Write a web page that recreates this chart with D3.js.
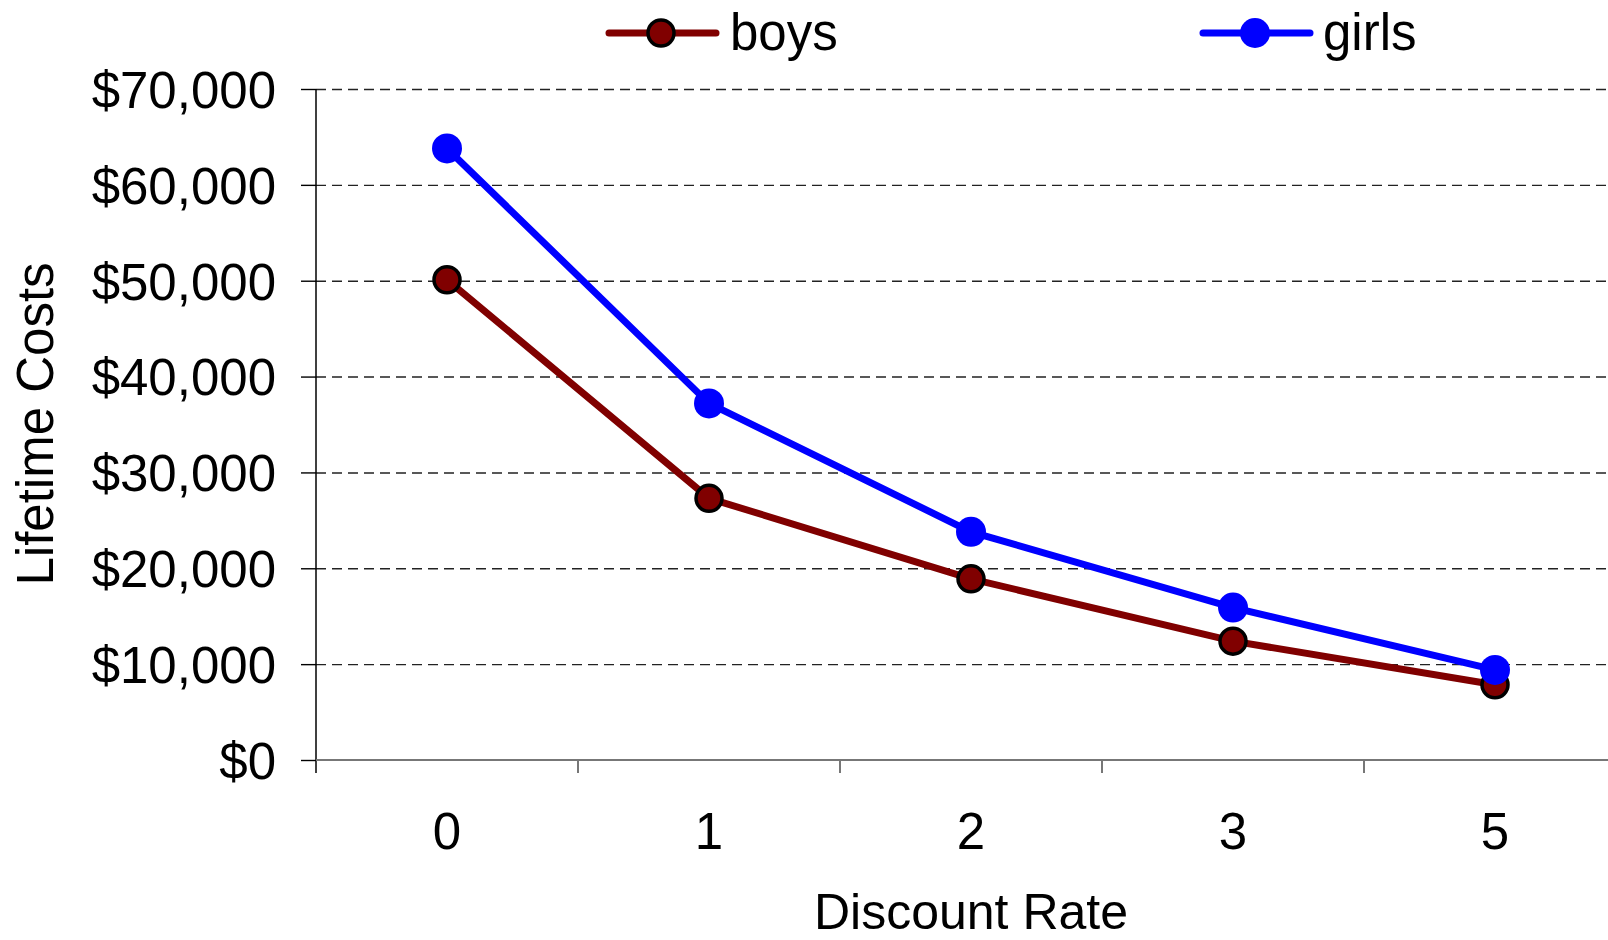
<!DOCTYPE html>
<html lang="en">
<head>
    <meta charset="UTF-8">
    <title>Lifetime Costs by Discount Rate</title>
    <script src="https://d3js.org/d3.v7.min.js"></script>
    <style>
        body {
            margin: 0;
            background: #fff;
        }
        svg text {
            font-family: "Liberation Sans", Arial, sans-serif;
            fill: #000;
        }
    </style>
</head>
<body>
    <script>
    // data
    var rates = ["0", "1", "2", "3", "5"];
    var boys = [50100, 27300, 18900, 12400, 7850];
    var girls = [63800, 37200, 23800, 15900, 9400];
    var yTicks = [0, 10000, 20000, 30000, 40000, 50000, 60000, 70000];

    var w = 1608;
    var h = 940;

    var svg = d3.select("body")
        .append("svg")
        .attr("width", w)
        .attr("height", h);

    // plot spans past the right edge of the picture, like the original
    var x = d3.scaleBand()
        .domain(rates)
        .range([316, 1626]);

    var y = d3.scaleLinear()
        .domain([0, 70000])
        .range([760, 89]);

    // dashed gridlines
    svg.append("g")
        .attr("transform", "translate(316,0)")
        .call(d3.axisLeft(y).tickValues(yTicks.slice(1)).tickSize(-(w - 316)).tickFormat(""))
        .call(function(g) {
            g.select(".domain").remove();
            g.selectAll("line")
                .attr("stroke", "#222")
                .attr("stroke-width", 1.4)
                .attr("stroke-dasharray", "10,6");
        });

    // y axis
    svg.append("g")
        .attr("transform", "translate(316,0)")
        .call(d3.axisLeft(y)
            .tickValues(yTicks)
            .tickSize(15)
            .tickPadding(25)
            .tickFormat(function(d) { return "$" + d3.format(",")(d); }))
        .call(function(g) {
            g.select(".domain").remove();
            g.selectAll("line").attr("stroke", "#000").attr("stroke-width", 1.4);
            g.selectAll("text")
                .attr("font-size", 51)
                .attr("dy", "0.36em");
        });

    svg.append("line")
        .attr("x1", 316).attr("x2", 316)
        .attr("y1", y(70000)).attr("y2", 773)
        .attr("stroke", "#000")
        .attr("stroke-width", 1.5);

    // x axis line + ticks on band edges
    svg.append("line")
        .attr("x1", 316).attr("x2", w)
        .attr("y1", y(0)).attr("y2", y(0))
        .attr("stroke", "#777")
        .attr("stroke-width", 2);

    svg.selectAll(".xtick")
        .data(rates.slice(1))
        .enter()
        .append("line")
        .attr("class", "xtick")
        .attr("x1", function(d) { return x(d); })
        .attr("x2", function(d) { return x(d); })
        .attr("y1", y(0))
        .attr("y2", 773)
        .attr("stroke", "#777")
        .attr("stroke-width", 2);

    svg.append("g")
        .attr("transform", "translate(0," + y(0) + ")")
        .call(d3.axisBottom(x).tickSize(0).tickPadding(53))
        .call(function(g) {
            g.select(".domain").remove();
            g.selectAll("text").attr("font-size", 51);
        });

    // axis titles
    svg.append("text")
        .attr("x", x("2") + x.bandwidth() / 2)
        .attr("y", 929)
        .attr("text-anchor", "middle")
        .attr("font-size", 50)
        .text("Discount Rate");

    svg.append("text")
        .attr("transform", "translate(53,424) rotate(-90)")
        .attr("text-anchor", "middle")
        .attr("font-size", 51)
        .text("Lifetime Costs");

    // series
    var series = [
        { name: "boys", values: boys, color: "#800000", outline: "#000" },
        { name: "girls", values: girls, color: "#0000ff", outline: "none" }
    ];

    var line = d3.line()
        .x(function(d, i) { return x(rates[i]) + x.bandwidth() / 2; })
        .y(function(d) { return y(d); });

    series.forEach(function(s) {
        svg.append("path")
            .datum(s.values)
            .attr("d", line)
            .attr("fill", "none")
            .attr("stroke", s.color)
            .attr("stroke-width", 7);

        svg.selectAll(".pt-" + s.name)
            .data(s.values)
            .enter()
            .append("circle")
            .attr("class", "pt-" + s.name)
            .attr("cx", function(d, i) { return x(rates[i]) + x.bandwidth() / 2; })
            .attr("cy", function(d) { return y(d); })
            .attr("r", s.outline === "none" ? 15 : 13)
            .attr("fill", s.color)
            .attr("stroke", s.outline)
            .attr("stroke-width", 3.5);
    });

    // legend
    var legendX = [609, 1203];
    var legend = svg.selectAll(".legend")
        .data(series)
        .enter()
        .append("g")
        .attr("class", "legend")
        .attr("transform", function(d, i) { return "translate(" + legendX[i] + ",33)"; });

    legend.append("line")
        .attr("x1", 0).attr("x2", 107)
        .attr("stroke", function(d) { return d.color; })
        .attr("stroke-width", 7)
        .attr("stroke-linecap", "round");

    legend.append("circle")
        .attr("cx", 52)
        .attr("r", function(d) { return d.outline === "none" ? 15 : 13; })
        .attr("fill", function(d) { return d.color; })
        .attr("stroke", function(d) { return d.outline; })
        .attr("stroke-width", 3.5);

    legend.append("text")
        .attr("x", function(d, i) { return i === 0 ? 121 : 120; })
        .attr("y", 17)
        .attr("font-size", 51)
        .text(function(d) { return d.name; });
    </script>
</body>
</html>
